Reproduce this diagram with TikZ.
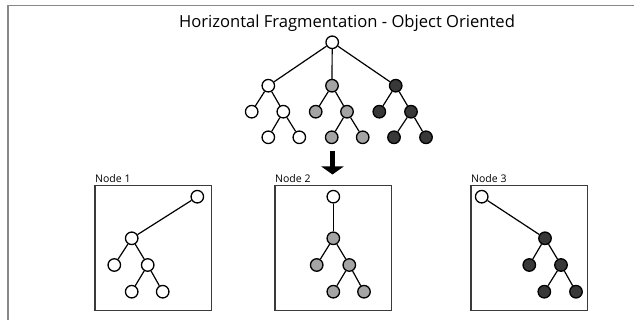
\documentclass[tikz,border=0pt]{standalone}
\usepackage{fontspec}
\setmainfont{Open Sans}
\usetikzlibrary{arrows.meta}
\definecolor{fragwhite}{HTML}{FFFFFF}
\definecolor{fraggray}{HTML}{A4A4A4}
\definecolor{fragdark}{HTML}{383838}
\definecolor{framegray}{HTML}{888888}
\definecolor{boxgray}{HTML}{3A3A3A}

\begin{document}
\begin{tikzpicture}[x=1pt, y=-1pt,
	vtx/.style={circle, draw=black, line width=1.3pt, minimum size=12.5pt, inner sep=0pt},
	wvtx/.style={vtx, fill=fragwhite},
	gvtx/.style={vtx, fill=fraggray},
	dvtx/.style={vtx, fill=fragdark},
	edge/.style={line width=1.2pt},
	site/.style={draw=boxgray, line width=1.4pt},
	sitelabel/.style={anchor=south west, inner sep=0pt, font=\fontsize{10.5}{12}\selectfont}]
			%%%%% START %%%%%
			\useasboundingbox (0,0) rectangle (634,320);
			
			\draw[framegray, line width=1.8pt] (8,320) -- (8,5.5) -- (634,5.5);
			
			\node (title) at (347,23.5) {\fontsize{16.6}{19}\selectfont Horizontal Fragmentation - Object Oriented};
			
			% whole object tree
			\node[wvtx] (r) at (332.2,42.3) {};
			\node[wvtx] (a) at (268.3,85.7) {};
			\node[gvtx] (b) at (332,85.7) {};
			\node[dvtx] (c) at (395.7,85.7) {};
			\node[wvtx] (a1) at (251.7,111.7) {};
			\node[wvtx] (a2) at (283.3,111.7) {};
			\node[gvtx] (b1) at (315.7,111.7) {};
			\node[gvtx] (b2) at (347,111.7) {};
			\node[dvtx] (c1) at (379.3,111.7) {};
			\node[dvtx] (c2) at (411,111.7) {};
			\node[wvtx] (a21) at (268.3,137.3) {};
			\node[wvtx] (a22) at (299.3,137.3) {};
			\node[gvtx] (b21) at (331.7,137.3) {};
			\node[gvtx] (b22) at (362.7,137.3) {};
			\node[dvtx] (c21) at (394,137.3) {};
			\node[dvtx] (c22) at (426,137.3) {};
			
			\draw[edge] (r) -- (a);
			\draw[edge] (r) -- (b);
			\draw[edge] (r) -- (c);
			\draw[edge] (a) -- (a1);
			\draw[edge] (a) -- (a2);
			\draw[edge] (a2) -- (a21);
			\draw[edge] (a2) -- (a22);
			\draw[edge] (b) -- (b1);
			\draw[edge] (b) -- (b2);
			\draw[edge] (b2) -- (b21);
			\draw[edge] (b2) -- (b22);
			\draw[edge] (c) -- (c1);
			\draw[edge] (c) -- (c2);
			\draw[edge] (c2) -- (c21);
			\draw[edge] (c2) -- (c22);
			
			% split arrow
			\coordinate (splittop) at (332.5,151);
			\coordinate (splitend) at (332.5,174.5);
			\draw[line width=4.5pt, -{Triangle[width=22pt, length=8pt]}] (splittop) -- (splitend);
			
			% Node 1
			\draw[site] (95,185.7) rectangle (211.7,310.7);
			\node[sitelabel] (lab1) at (95,182.5) {Node 1};
			\node[wvtx] (p1r) at (197.3,196.7) {};
			\node[wvtx] (p1a) at (131.7,238.3) {};
			\node[wvtx] (p1a1) at (114.3,265) {};
			\node[wvtx] (p1a2) at (147.7,265) {};
			\node[wvtx] (p1a21) at (131.7,291.7) {};
			\node[wvtx] (p1a22) at (162.7,291.7) {};
			\draw[edge] (p1r) -- (p1a);
			\draw[edge] (p1a) -- (p1a1);
			\draw[edge] (p1a) -- (p1a2);
			\draw[edge] (p1a2) -- (p1a21);
			\draw[edge] (p1a2) -- (p1a22);
			
			% Node 2
			\draw[site] (275,185.7) rectangle (391.7,310.7);
			\node[sitelabel] (lab2) at (275,182.5) {Node 2};
			\node[wvtx] (p2r) at (333.3,196.7) {};
			\node[gvtx] (p2b) at (333.3,238.3) {};
			\node[gvtx] (p2b1) at (316.7,265) {};
			\node[gvtx] (p2b2) at (349.3,265) {};
			\node[gvtx] (p2b21) at (333.3,291.7) {};
			\node[gvtx] (p2b22) at (364,291.7) {};
			\draw[edge] (p2r) -- (p2b);
			\draw[edge] (p2b) -- (p2b1);
			\draw[edge] (p2b) -- (p2b2);
			\draw[edge] (p2b2) -- (p2b21);
			\draw[edge] (p2b2) -- (p2b22);
			
			% Node 3
			\draw[site] (471,185.7) rectangle (587.7,310.7);
			\node[sitelabel] (lab3) at (471,182.5) {Node 3};
			\node[wvtx] (p3r) at (481.7,196.7) {};
			\node[dvtx] (p3c) at (545,238.3) {};
			\node[dvtx] (p3c1) at (529.3,265) {};
			\node[dvtx] (p3c2) at (561,265) {};
			\node[dvtx] (p3c21) at (544.3,291.7) {};
			\node[dvtx] (p3c22) at (576,291.7) {};
			\draw[edge] (p3r) -- (p3c);
			\draw[edge] (p3c) -- (p3c1);
			\draw[edge] (p3c) -- (p3c2);
			\draw[edge] (p3c2) -- (p3c21);
			\draw[edge] (p3c2) -- (p3c22);
			
			%%%%% END %%%%%
\end{tikzpicture}
\end{document}
